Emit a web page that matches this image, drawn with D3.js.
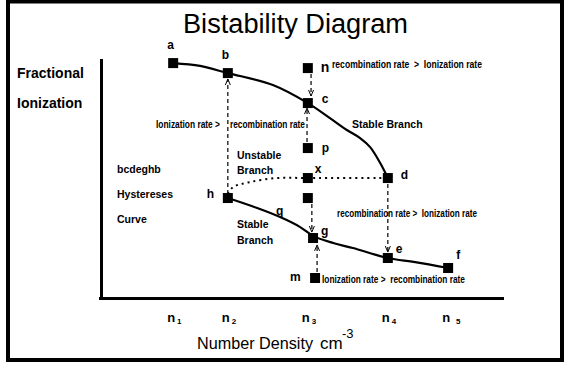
<!DOCTYPE html>
<html>
<head>
<meta charset="utf-8">
<title>Bistability Diagram</title>
<script src="https://d3js.org/d3.v7.min.js"></script>
<style>
    body { margin: 0; background: #ffffff; }
    svg { display: block; font-family: 'Liberation Sans', Arial, sans-serif; }
</style>
</head>
<body>
<div id="chart"></div>
<script>
// x: number density (arbitrary units 0..100), y: fractional ionization (0..1)
const pointNames = ["a", "b", "n", "c", "p", "x", "d", "h", "s", "g", "m", "e", "f"];
const pointX = [18.2, 31.8, 51.7, 51.7, 51.7, 51.7, 71.6, 31.8, 51.7, 53.0, 53.5, 71.6, 86.6];
const pointY = [0.987, 0.945, 0.966, 0.819, 0.630, 0.504, 0.504, 0.420, 0.420, 0.252, 0.084, 0.168, 0.126];

// upper stable branch a-b-c-d
const upperX = [18.2, 24.9, 31.8, 43.0, 51.7, 57.2, 61.4, 64.7, 67.2, 69.7, 71.6];
const upperY = [0.987, 0.975, 0.945, 0.895, 0.819, 0.756, 0.706, 0.672, 0.634, 0.567, 0.504];

// lower stable branch h-g-e-f
const lowerX = [31.8, 39.1, 44.8, 49.8, 53.0, 58.0, 62.9, 71.6, 78.4, 86.6];
const lowerY = [0.420, 0.378, 0.340, 0.298, 0.261, 0.231, 0.210, 0.168, 0.151, 0.126];

// unstable branch h-x-d (dotted)
const unstableX = [31.8, 33.1, 37.3, 44.0, 51.7, 71.6];
const unstableY = [0.437, 0.466, 0.487, 0.504, 0.504, 0.504];

// dashed transitions
const arrowX = [31.8, 52.5, 51.5, 52.7, 54.0, 71.6];
const arrowFrom = [0.437, 0.941, 0.655, 0.395, 0.109, 0.479];
const arrowTo = [0.920, 0.849, 0.798, 0.277, 0.223, 0.193];

// axis ticks n1..n5
const xTicks = [18.2, 31.8, 51.7, 71.6, 86.6];
const xTickSubs = ["1", "2", "3", "4", "5"];

const W = 569, H = 368;
const svg = d3.select('#chart').append('svg')
    .attr('width', W)
    .attr('height', H);

const x = d3.scaleLinear().domain([0, 100]).range([100, 502]);
const y = d3.scaleLinear().domain([0, 1]).range([298, 60]);

// frame
svg.append('rect')
    .attr('x', 8).attr('y', 1.5)
    .attr('width', 554).attr('height', 358.5)
    .attr('fill', 'none')
    .attr('stroke', '#000')
    .attr('stroke-width', 4);

// title
svg.append('text')
    .attr('x', 183).attr('y', 33)
    .attr('font-size', 27)
    .attr('textLength', 225)
    .attr('lengthAdjust', 'spacingAndGlyphs')
    .text('Bistability Diagram');

// axes
const yAxis = svg.append('g')
    .attr('transform', 'translate(101,0)')
    .call(d3.axisLeft(y).tickValues([]).tickSize(0).tickSizeOuter(0));
const xAxis = svg.append('g')
    .attr('transform', 'translate(0,298)')
    .call(d3.axisBottom(x).tickValues([]).tickSize(0).tickSizeOuter(0));
svg.selectAll('.domain')
    .attr('stroke', '#000')
    .attr('stroke-width', 3)
    .attr('stroke-linecap', 'square');

// tick labels n1..n5
const tl = svg.append('g').selectAll('text')
    .data(xTicks)
    .enter().append('text')
    .attr('x', d => x(d) - 6)
    .attr('y', 322)
    .attr('font-size', 13)
    .attr('font-weight', 'bold')
    .text('n');
tl.append('tspan')
    .attr('dx', (d, i) => i === 4 ? 6 : 2)
    .attr('dy', 2)
    .attr('font-size', 8)
    .text((d, i) => xTickSubs[i]);

// axis titles
svg.append('text').attr('x', 17).attr('y', 78)
    .attr('font-size', 14).attr('font-weight', 'bold').text('Fractional');
svg.append('text').attr('x', 17).attr('y', 108)
    .attr('font-size', 14).attr('font-weight', 'bold').text('Ionization');

const xt = svg.append('text').attr('x', 197).attr('y', 349).attr('font-size', 17);
xt.append('tspan').attr('textLength', 116).attr('lengthAdjust', 'spacingAndGlyphs').text('Number Density');
xt.append('tspan').attr('x', 320).text('cm');
xt.append('tspan').attr('x', 342).attr('dy', -11).attr('font-size', 13).text('-3');

// curves
const line = d3.line().x(d => x(d[0])).y(d => y(d[1])).curve(d3.curveCatmullRom);
svg.append('path')
    .datum(upperX.map((v, i) => [v, upperY[i]]))
    .attr('d', line)
    .attr('fill', 'none').attr('stroke', '#000').attr('stroke-width', 2.2);
svg.append('path')
    .datum(lowerX.map((v, i) => [v, lowerY[i]]))
    .attr('d', line)
    .attr('fill', 'none').attr('stroke', '#000').attr('stroke-width', 2.2);
svg.append('path')
    .datum(unstableX.map((v, i) => [v, unstableY[i]]))
    .attr('d', line)
    .attr('fill', 'none').attr('stroke', '#000').attr('stroke-width', 2)
    .attr('stroke-dasharray', '2,4');

// dashed arrows
const arrows = svg.append('g').selectAll('g')
    .data(arrowX)
    .enter().append('g');
arrows.append('line')
    .attr('x1', d => x(d)).attr('x2', d => x(d))
    .attr('y1', (d, i) => y(arrowFrom[i]))
    .attr('y2', (d, i) => y(arrowTo[i]))
    .attr('stroke', '#000').attr('stroke-width', 1.2)
    .attr('stroke-dasharray', '4,3');
arrows.append('path')
    .attr('d', (d, i) => {
        const px = x(d), ty = y(arrowTo[i]);
        const dir = Math.sign(y(arrowTo[i]) - y(arrowFrom[i]));
        return `M${px - 2.5},${ty - dir * 6}L${px},${ty}L${px + 2.5},${ty - dir * 6}`;
    })
    .attr('fill', 'none').attr('stroke', '#000').attr('stroke-width', 1);

// state squares
svg.append('g').selectAll('rect')
    .data(pointNames)
    .enter().append('rect')
    .attr('x', (d, i) => x(pointX[i]) - 5)
    .attr('y', (d, i) => y(pointY[i]) - 5)
    .attr('width', 10).attr('height', 10)
    .attr('fill', '#000');

// point labels
const labelOff = {
    a: [-6, -14], b: [-6, -14], n: [13, 4], c: [14, 0], p: [14, 4],
    x: [7, -5], d: [13, 1], h: [-21, 0], g: [8, -3], m: [-25, 3],
    e: [8, -5], f: [8, -9]
};
svg.append('g').selectAll('text')
    .data(pointNames.filter(d => labelOff[d]))
    .enter().append('text')
    .attr('x', d => x(pointX[pointNames.indexOf(d)]) + labelOff[d][0])
    .attr('y', d => y(pointY[pointNames.indexOf(d)]) + labelOff[d][1])
    .attr('font-size', d => d === 'n' ? 14 : 12)
    .attr('font-weight', 'bold')
    .text(d => d);
svg.append('text').attr('x', 276).attr('y', 215)
    .attr('font-size', 12).attr('font-weight', 'bold').text('q');

// rate annotations
const rateNotes = [
    ['Ionization rate >', 156, 128, 64],
    ['recombination rate', 230, 128, 75],
    ['recombination rate  >  Ionization rate', 332, 68, 150],
    ['recombination rate >  Ionization rate', 337, 217, 140],
    ['Ionization rate >  recombination rate', 322, 283, 143]
];
svg.append('g').selectAll('text')
    .data(rateNotes)
    .enter().append('text')
    .attr('x', d => d[1]).attr('y', d => d[2])
    .attr('textLength', d => d[3])
    .attr('lengthAdjust', 'spacingAndGlyphs')
    .attr('font-size', 10)
    .attr('font-weight', 'bold')
    .style('white-space', 'pre')
    .text(d => d[0]);

// branch notes
const notes = [
    ['Stable Branch', 352, 128],
    ['Unstable', 237, 159],
    ['Branch', 237, 174],
    ['bcdeghb', 117, 173],
    ['Hystereses', 117, 198],
    ['Curve', 117, 223],
    ['Stable', 237, 228],
    ['Branch', 237, 244]
];
svg.append('g').selectAll('text')
    .data(notes)
    .enter().append('text')
    .attr('x', d => d[1]).attr('y', d => d[2])
    .attr('font-size', 10.5)
    .attr('font-weight', 'bold')
    .text(d => d[0]);
</script>
</body>
</html>
